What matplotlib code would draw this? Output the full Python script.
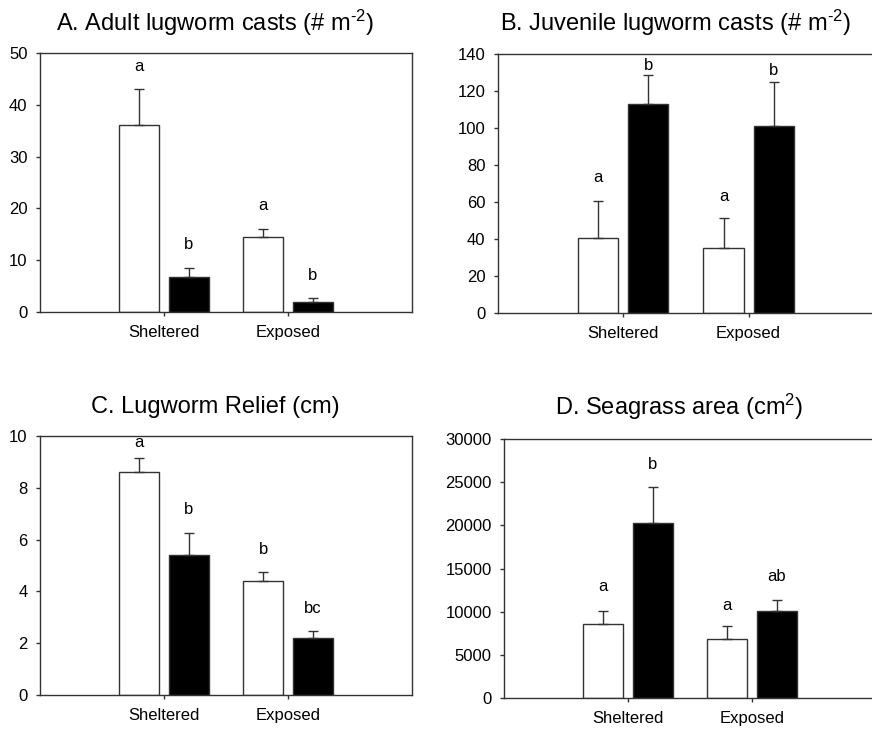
import numpy as np
import matplotlib.pyplot as plt

plt.rcParams['font.family'] = ['Liberation Sans', 'DejaVu Sans']
plt.rcParams['mathtext.fontset'] = 'custom'
plt.rcParams['mathtext.rm'] = 'Liberation Sans'
plt.rcParams['mathtext.it'] = 'Liberation Sans:italic'

sites = ["Sheltered", "Exposed"]

# panel A: adult lugworm casts
adult_white = [36.2, 14.4]
adult_white_err = [6.8, 1.6]
adult_black = [6.8, 2.0]
adult_black_err = [1.7, 0.7]
adult_letters_white = ["a", "a"]
adult_letters_black = ["b", "b"]
adult_letter_y_white = [47.5, 20.5]
adult_letter_y_black = [13.1, 7.1]

# panel B: juvenile lugworm casts
juv_white = [40.5, 35.0]
juv_white_err = [20.0, 16.5]
juv_black = [113.0, 101.0]
juv_black_err = [15.5, 24.0]
juv_letters_white = ["a", "a"]
juv_letters_black = ["b", "b"]
juv_letter_y_white = [73.5, 62.7]
juv_letter_y_black = [133.5, 130.8]

# panel C: lugworm relief
relief_white = [8.6, 4.4]
relief_white_err = [0.55, 0.35]
relief_black = [5.4, 2.2]
relief_black_err = [0.85, 0.27]
relief_letters_white = ["a", "b"]
relief_letters_black = ["b", "bc"]
relief_letter_y_white = [9.73, 5.6]
relief_letter_y_black = [7.18, 3.35]

# panel D: seagrass area
grass_white = [8600, 6800]
grass_white_err = [1500, 1500]
grass_black = [20300, 10100]
grass_black_err = [4100, 1300]
grass_letters_white = ["a", "a"]
grass_letters_black = ["b", "ab"]
grass_letter_y_white = [12860, 10770]
grass_letter_y_black = [27000, 14130]

edge = "#333333"
x = np.array([1, 2])
w = 0.32
off = 0.2

fig = plt.figure(figsize=(8.72, 7.29), dpi=100)


def panel(rect, title, white, white_err, black, black_err,
          lw_, lb_, yw, yb, ymax, ystep, title_y):
    ax = fig.add_axes(rect)
    ax.bar(x - off, white, w, color="white", edgecolor=edge, linewidth=1)
    ax.bar(x + off, black, w, color="black", edgecolor=edge, linewidth=1)
    ax.errorbar(x - off, white, yerr=[np.zeros(2), white_err], fmt="none",
                ecolor=edge, elinewidth=1, capsize=3.5, capthick=1)
    ax.errorbar(x + off, black, yerr=[np.zeros(2), black_err], fmt="none",
                ecolor=edge, elinewidth=1, capsize=3.5, capthick=1)
    for i in range(2):
        ax.text(x[i] - off, yw[i], lw_[i], ha="center", va="center", fontsize=12)
        ax.text(x[i] + off, yb[i], lb_[i], ha="center", va="center", fontsize=12)
    ax.set_xlim(0, 3)
    ax.set_ylim(0, ymax)
    ax.set_yticks(np.arange(0, ymax + 1, ystep))
    ax.set_xticks(x)
    ax.set_xticklabels(sites)
    ax.tick_params(direction="out", length=3, width=1, color=edge,
                   labelsize=12, pad=6)
    for s in ax.spines.values():
        s.set_color(edge)
        s.set_linewidth(1)
    fig.text((rect[0] + rect[0] + rect[2]) / 2 - 0.012, title_y, title,
             ha="center", va="center", fontsize=17)
    return ax


panel([0.0459, 0.572, 0.4266, 0.355], r"A. Adult lugworm casts (# m$^{\text{-2}}$)",
      adult_white, adult_white_err, adult_black, adult_black_err,
      adult_letters_white, adult_letters_black,
      adult_letter_y_white, adult_letter_y_black, 50, 10, 0.968)

panel([0.571, 0.5706, 0.4312, 0.3554], r"B. Juvenile lugworm casts (# m$^{\text{-2}}$)",
      juv_white, juv_white_err, juv_black, juv_black_err,
      juv_letters_white, juv_letters_black,
      juv_letter_y_white, juv_letter_y_black, 140, 20, 0.968)

panel([0.0459, 0.0466, 0.4266, 0.3554], "C. Lugworm Relief (cm)",
      relief_white, relief_white_err, relief_black, relief_black_err,
      relief_letters_white, relief_letters_black,
      relief_letter_y_white, relief_letter_y_black, 10, 2, 0.442)

panel([0.578, 0.0425, 0.4266, 0.3553], r"D. Seagrass area (cm$^{2}$)",
      grass_white, grass_white_err, grass_black, grass_black_err,
      grass_letters_white, grass_letters_black,
      grass_letter_y_white, grass_letter_y_black, 30000, 5000, 0.442)

fig.savefig("out.png", dpi=100)
